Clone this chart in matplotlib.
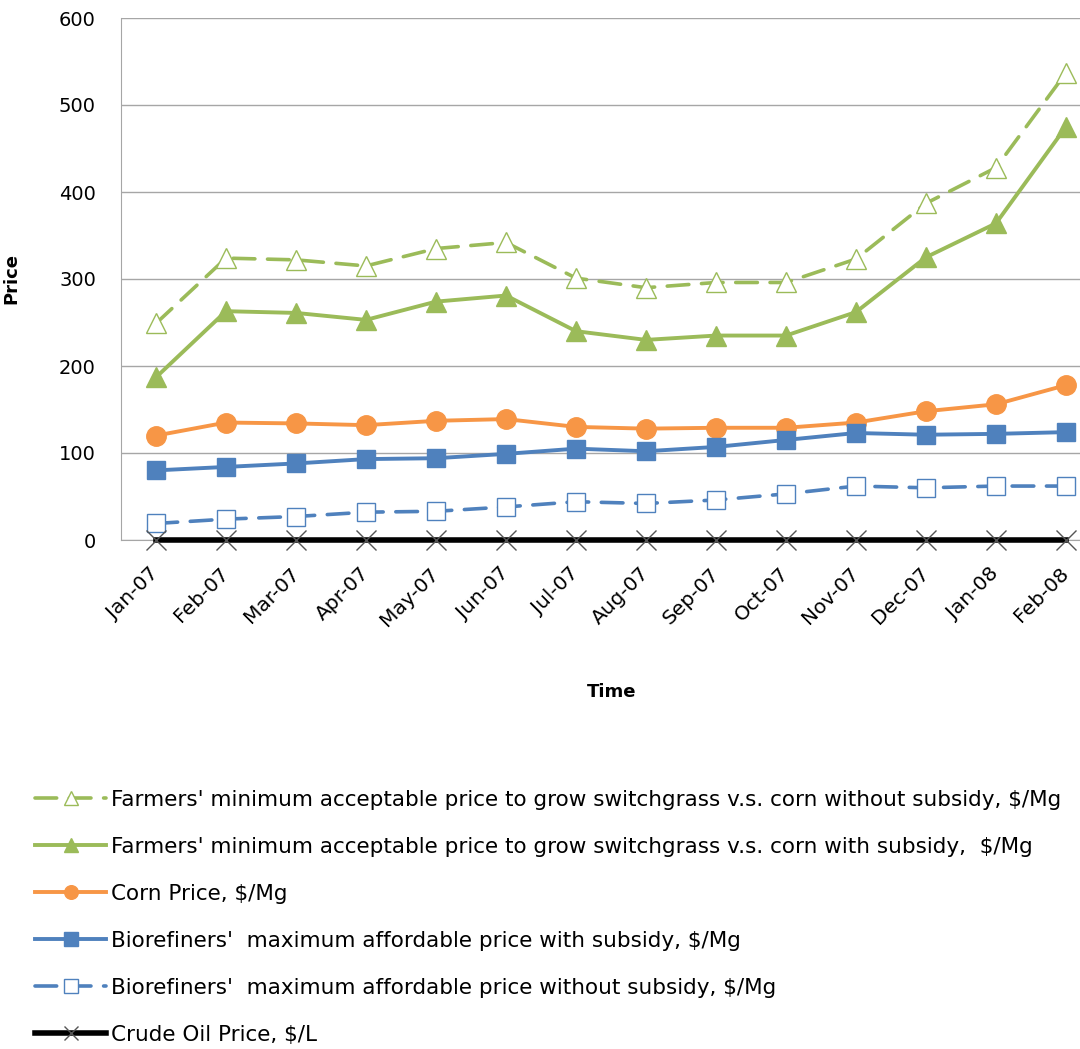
import matplotlib
matplotlib.use("Agg")
import matplotlib.pyplot as plt
from matplotlib.lines import Line2D

months = ["Jan-07", "Feb-07", "Mar-07", "Apr-07", "May-07", "Jun-07", "Jul-07",
          "Aug-07", "Sep-07", "Oct-07", "Nov-07", "Dec-07", "Jan-08", "Feb-08"]

farm_no_sub = [249, 324, 322, 315, 335, 342, 301, 290, 296, 296, 323, 387, 428, 537]
farm_sub = [187, 263, 261, 253, 274, 281, 240, 230, 235, 235, 262, 325, 364, 475]
corn = [120, 135, 134, 132, 137, 139, 130, 128, 129, 129, 135, 148, 156, 178]
bio_sub = [80, 84, 88, 93, 94, 99, 105, 102, 107, 115, 123, 121, 122, 124]
bio_no_sub = [19, 24, 27, 32, 33, 38, 44, 42, 46, 53, 62, 60, 62, 62]
crude = [0, 0, 0, 0, 0, 0, 0, 0, 0, 0, 0, 0, 0, 0]

labels = [
    "Farmers' minimum acceptable price to grow switchgrass v.s. corn without subsidy, $/Mg",
    "Farmers' minimum acceptable price to grow switchgrass v.s. corn with subsidy,  $/Mg",
    "Corn Price, $/Mg",
    "Biorefiners'  maximum affordable price with subsidy, $/Mg",
    "Biorefiners'  maximum affordable price without subsidy, $/Mg",
    "Crude Oil Price, $/L",
]

GREEN = "#9BBB59"
ORANGE = "#F79646"
BLUE = "#4F81BD"
GRID = "#A6A6A6"

W, H = 1080, 1049
fig = plt.figure(figsize=(W / 100, H / 100), dpi=100)
ax = fig.add_axes([121 / W, 1 - 540 / H, 980 / W, 522 / H])

x = list(range(len(months)))
dash = (0, (6, 3.5))

h1, = ax.plot(x, farm_no_sub, color=GREEN, lw=2.6, linestyle=dash, dash_capstyle="round",
              marker="^", ms=15, mfc="white", mec=GREEN, mew=1.0)
h2, = ax.plot(x, farm_sub, color=GREEN, lw=2.8, marker="^", ms=15, mfc=GREEN, mec=GREEN)
h3, = ax.plot(x, corn, color=ORANGE, lw=2.8, marker="o", ms=14, mfc=ORANGE, mec=ORANGE)
h4, = ax.plot(x, bio_sub, color=BLUE, lw=2.8, marker="s", ms=13.5, mfc=BLUE, mec=BLUE)
h5, = ax.plot(x, bio_no_sub, color=BLUE, lw=2.6, linestyle=dash, dash_capstyle="round",
              marker="s", ms=13.5, mfc="white", mec=BLUE, mew=1.0)
h6, = ax.plot(x, crude, color="black", lw=4.0, marker="x", ms=14, mec="#555555", mew=1.0,
              clip_on=False, zorder=5)

ax.set_xlim(-0.5, len(months) - 0.5)
ax.set_ylim(0, 600)
ax.set_yticks(range(0, 601, 100))
ax.yaxis.grid(True, color=GRID, lw=1.0)
ax.set_axisbelow(True)
for s in ["top", "right"]:
    ax.spines[s].set_visible(False)
ax.spines["left"].set_color(GRID)
ax.spines["bottom"].set_color(GRID)
ax.tick_params(length=0)
ax.tick_params(axis="y", labelsize=14, pad=18)
ax.set_xticks(x)
ax.set_xticklabels(months, rotation=45, ha="right", va="center", rotation_mode="anchor", fontsize=14.5)
ax.tick_params(axis="x", pad=22)

ax.set_ylabel("Price", fontsize=13, fontweight="bold")
ax.yaxis.set_label_coords(-0.103, 0.5)
ax.set_xlabel("Time", fontsize=13, fontweight="bold")
ax.xaxis.set_label_coords(0.501, -0.274)

leg = fig.legend([h1, h2, h3, h4, h5, h6], labels, loc="upper left",
                 bbox_to_anchor=(35 / W, 1 - 790 / H), frameon=False,
                 prop={"family": "DejaVu Sans", "size": 15.5},
                 handlelength=3.3, handletextpad=0.22, labelspacing=1.25,
                 markerscale=0.7, borderaxespad=0, borderpad=0)

fig.savefig("out.png", dpi=100)
